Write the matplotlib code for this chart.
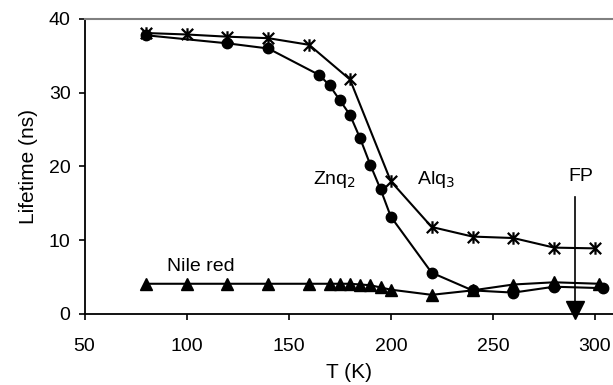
import numpy as np
import matplotlib
matplotlib.use("Agg")
import matplotlib.pyplot as plt
from matplotlib.path import Path

plt.rcParams['font.family'] = ['Liberation Sans', 'DejaVu Sans']

# Datos
t_alq3 = [80, 100, 120, 140, 160, 180, 200, 220, 240, 260, 280, 300]
vida_alq3 = [38.1, 37.9, 37.6, 37.4, 36.5, 31.8, 18.0, 11.8, 10.5, 10.3, 9.0, 8.9]

t_znq2 = [80, 120, 140, 165, 170, 175, 180, 185, 190, 195, 200, 220, 240, 260, 280, 304]
vida_znq2 = [37.8, 36.7, 36.0, 32.4, 31.0, 29.0, 27.0, 23.8, 20.2, 16.9, 13.2, 5.6, 3.2, 2.9, 3.7, 3.5]

t_nile = [80, 100, 120, 140, 160, 170, 175, 180, 185, 190, 195, 200, 220, 240, 260, 280, 302]
vida_nile = [4.1, 4.1, 4.1, 4.1, 4.1, 4.1, 4.1, 4.1, 4.0, 3.9, 3.6, 3.3, 2.6, 3.2, 4.0, 4.3, 4.1]

fp_t = 290
fp_arriba = 15.8

x_ticks = [50, 100, 150, 200, 250, 300]
y_ticks = [0, 10, 20, 30, 40]

# Marcador tipo estrella de Excel (X con barra vertical)
estrella = Path([(-1, -1), (1, 1), (-1, 1), (1, -1), (0, -1.1), (0, 1.1)],
                [Path.MOVETO, Path.LINETO, Path.MOVETO, Path.LINETO, Path.MOVETO, Path.LINETO])

fig = plt.figure(figsize=(6.13, 3.85), dpi=100)
ax = fig.add_axes([84.5 / 613, 71 / 385, 528.5 / 613, 295 / 385])

ax.plot(t_alq3, vida_alq3, color="black", lw=1.5, marker=estrella, ms=9,
        mew=1.6, mfc="none", mec="black")
ax.plot(t_znq2, vida_znq2, color="black", lw=1.5, marker="o", ms=7.5)
ax.plot(t_nile, vida_nile, color="black", lw=1.5, marker="^", ms=8)

# Flecha FP
ax.plot([fp_t, fp_t], [fp_arriba, 1.0], color="black", lw=1.2)
ax.plot([fp_t], [0.5], marker="v", color="black", ms=13, clip_on=False)

ax.text(162, 18.2, "Znq$_2$", fontsize=14, va="center")
ax.text(213, 18.2, "Alq$_3$", fontsize=14, va="center")
ax.text(293, 18.6, "FP", fontsize=14, va="center", ha="center")
ax.text(107, 6.4, "Nile red", fontsize=14, va="center", ha="center")

ax.set_xlim(50, 308.8)
ax.set_ylim(0, 40)
ax.set_xticks(x_ticks)
ax.set_yticks(y_ticks)
ax.tick_params(labelsize=14, length=4, width=1.2, direction="out")
ax.tick_params(axis="x", pad=13)
ax.tick_params(axis="y", pad=6)
ax.set_xlabel("T (K)", fontsize=15, labelpad=6)
ax.set_ylabel("Lifetime (ns)", fontsize=15, labelpad=8)

ax.spines["right"].set_visible(False)
ax.spines["top"].set_color("#808080")
ax.spines["top"].set_linewidth(1.5)
ax.spines["left"].set_linewidth(1.3)
ax.spines["bottom"].set_linewidth(1.3)

plt.savefig("out.png", dpi=100)
